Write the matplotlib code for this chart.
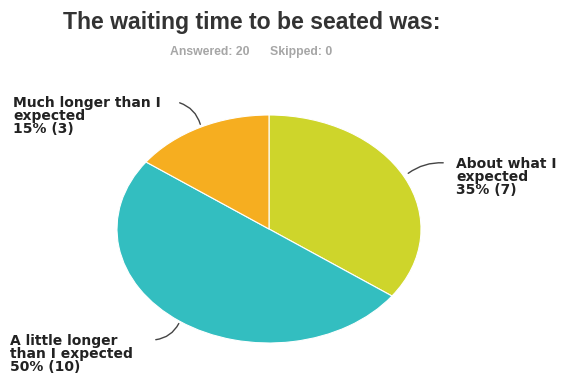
import matplotlib
matplotlib.use("Agg")
import matplotlib.pyplot as plt
from matplotlib.patches import FancyArrowPatch

categories = ["About what I\nexpected", "A little longer\nthan I expected", "Much longer than I\nexpected"]
counts = [7, 10, 3]
percents = [35, 50, 15]
colors = ["#CED52B", "#33BEC0", "#F6AE20"]

W, H = 563, 376
fig = plt.figure(figsize=(W / 100, H / 100), dpi=100)
fig.patch.set_facecolor("white")

# pie axes (elliptical pie as in reference)
left, right, top, bottom = 117, 421, 115, 343
ax = fig.add_axes([left / W, (H - bottom) / H, (right - left) / W, (bottom - top) / H])
ax.pie(counts, colors=colors, startangle=90, counterclock=False,
       wedgeprops=dict(edgecolor="white", linewidth=0.8))
ax.set_aspect("auto")
ax.set_xlim(-1, 1)
ax.set_ylim(-1, 1)
ax.axis("off")

fig.text(252 / W, 1 - 23 / H, "The waiting time to be seated was:", ha="center", va="center",
         fontsize=16.6, fontweight="bold", color="#333333", family="Liberation Sans")
fig.text(170 / W, 1 - 52 / H, "Answered: 20", ha="left", va="center",
         fontsize=8.8, fontweight="bold", color="#A6A6A6", family="Liberation Sans")
fig.text(270 / W, 1 - 52 / H, "Skipped: 0", ha="left", va="center",
         fontsize=8.8, fontweight="bold", color="#A6A6A6", family="Liberation Sans")

label_font = dict(fontsize=10, fontweight="bold", color="#222222", family="DejaVu Sans",
                  linespacing=0.93, va="top", ha="left")
labels = [f"{c}\n{p}% ({n})" for c, p, n in zip(categories, percents, counts)]
positions = [(456, 157), (10, 334), (13, 96)]
for lab, (x, y) in zip(labels, positions):
    fig.text(x / W, 1 - y / H, lab, **label_font)

leaders = [((406, 175), (446, 163), -0.2), ((180, 321), (153, 340), -0.3), ((201, 127), (177, 102), 0.3)]
for (x0, y0), (x1, y1), rad in leaders:
    p = FancyArrowPatch((x0, H - y0), (x1, H - y1), transform=None,
                        connectionstyle=f"arc3,rad={rad}", arrowstyle="-",
                        color="#444444", linewidth=1.0)
    fig.add_artist(p)

fig.savefig("out.png", dpi=100, facecolor="white")
